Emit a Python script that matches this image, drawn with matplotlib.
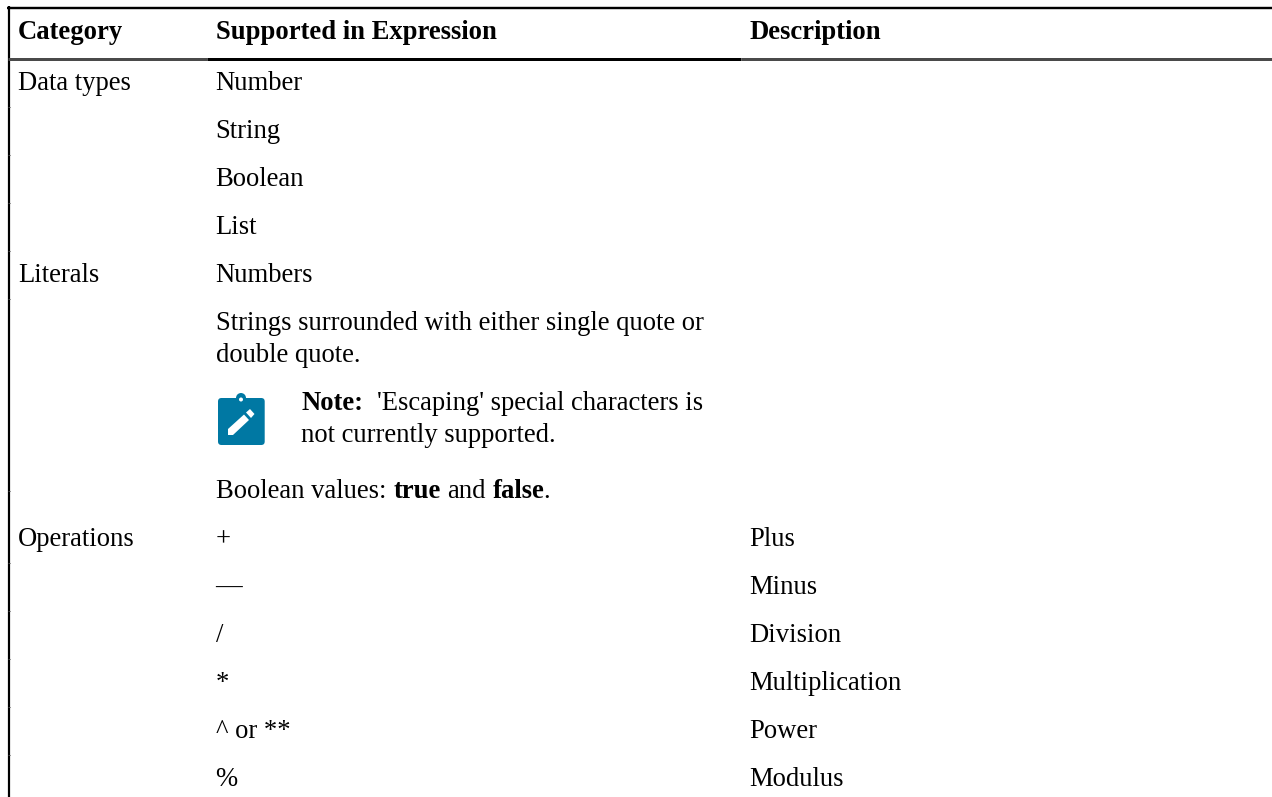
import matplotlib
matplotlib.use("Agg")
import matplotlib.pyplot as plt
from matplotlib.patches import FancyBboxPatch, Circle, Polygon

headers = ["Category", "Supported in Expression", "Description"]
categories = [("Data types", 90), ("Literals", 282), ("Operations", 546)]
supported = [("Number", 90), ("String", 138), ("Boolean", 186), ("List", 234),
             ("Numbers", 282), ("Strings surrounded with either single quote or", 330),
             ("double quote.", 362), ("+", 546), ("—", 594), ("/", 642), ("*", 690),
             ("^ or **", 738), ("%", 786)]
descriptions = [("Plus", 546), ("Minus", 594), ("Division", 642),
                ("Multiplication", 690), ("Power", 738), ("Modulus", 786)]
header_x = [18, 216, 750]
col_x = [18, 215.6, 749.6]
separators = [107, 155, 203, 251, 299, 491, 563, 611, 659, 707, 755]

W, H = 1272, 797
fig = plt.figure(figsize=(W / 100, H / 100), dpi=100, facecolor="white")
ax = fig.add_axes([0, 0, 1, 1])
ax.set_xlim(0, W)
ax.set_ylim(H, 0)
ax.axis("off")

plt.rcParams["font.family"] = ["Liberation Serif"]
FS = 26.6 * 72 / 100
kw = dict(fontsize=FS, color="black", va="baseline", ha="left", family="Liberation Serif")


def px(w):
    return w * 72 / 100


for h, x in zip(headers, header_x):
    ax.text(x, 39, h, fontweight="bold", **kw)
for t, y in categories:
    ax.text(col_x[0], y, t, **kw)
for t, y in supported:
    ax.text(col_x[1], y, t, **kw)
for t, y in descriptions:
    ax.text(col_x[2], y, t, **kw)

# mixed-weight note and boolean lines
ax.text(301, 410, "Note:", fontweight="bold", **kw)
ax.text(377, 410, "'Escaping' special characters is", **kw)
ax.text(301, 442, "not currently supported.", **kw)
ax.text(216, 498, "Boolean values: ", **kw)
ax.text(394, 498, "true", fontweight="bold", **kw)
ax.text(447, 498, "and", **kw)
ax.text(493, 498, "false", fontweight="bold", **kw)
ax.text(543, 498, ".", **kw)

# rules
ax.plot([7, 1272], [7.5, 7.5], color="black", lw=px(2.4), solid_capstyle="butt")
ax.plot([8.5, 8.5], [6, H], color="black", lw=px(2.2), solid_capstyle="butt")
ax.plot([8, 207], [58.5, 58.5], color="#4a4a4a", lw=px(3), solid_capstyle="butt")
ax.plot([207, 741], [58.5, 58.5], color="black", lw=px(3), solid_capstyle="butt")
ax.plot([741, 1272], [58.5, 58.5], color="#4a4a4a", lw=px(3), solid_capstyle="butt")
for y in separators:
    ax.plot([7.5, 9.5], [y, y], color="#444444", lw=px(1), solid_capstyle="butt")

# note icon
blue = "#0078a3"
ax.add_patch(FancyBboxPatch((218, 398), 46.7, 47, boxstyle="round,pad=0,rounding_size=3.5",
                            fc=blue, ec="none"))
ax.add_patch(Circle((241, 398), 5, fc=blue, ec="none"))
ax.add_patch(Circle((241, 399.5), 2, fc="white", ec="none"))
ax.add_patch(Polygon([[228, 429], [228, 435], [233, 435], [249, 420], [244, 414.5]],
                     closed=True, fc="white", ec="none"))
ax.add_patch(Polygon([[246, 412.5], [251, 418], [254.5, 414], [250, 409]],
                     closed=True, fc="white", ec="none"))

fig.savefig("out.png", dpi=100, facecolor="white")
